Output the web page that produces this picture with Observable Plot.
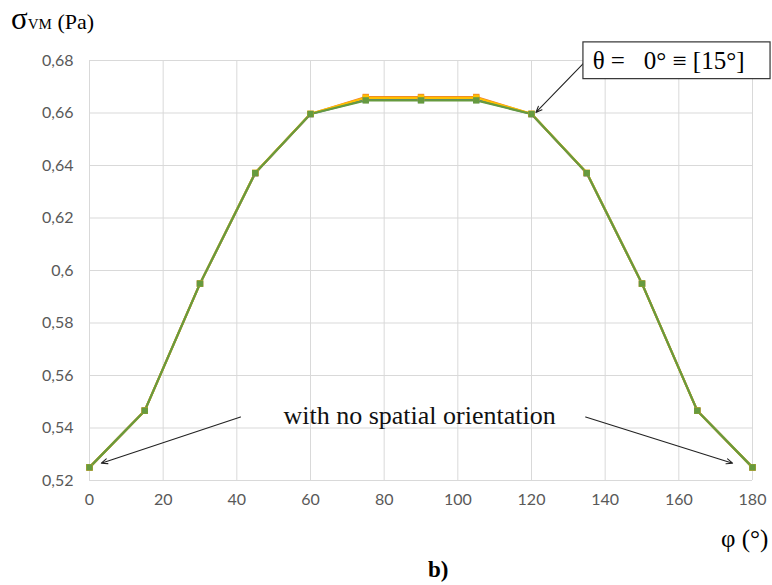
<!DOCTYPE html>
<html><head><meta charset="utf-8">
<script src="https://cdn.jsdelivr.net/npm/d3@7"></script>
<script src="https://cdn.jsdelivr.net/npm/@observablehq/plot@0.6"></script>
<style>
body{margin:0;background:#fff;}
#wrap{position:relative;width:772px;height:585px;overflow:hidden;}
.lbl{position:absolute;font-family:"Liberation Serif","DejaVu Serif",serif;color:#000;white-space:pre;line-height:1;}
</style></head><body><div id="wrap"></div>
<script>
const phi = [0, 15, 30, 45, 60, 75, 90, 105, 120, 135, 150, 165, 180];
const seriesNames = ["Series 1", "Series 2", "Series 3", "Series 4"];
const seriesColors = ["#4472C4", "#ED7D31", "#FFC000", "#669A3F"];
const s1 = [0.525, 0.5466, 0.595, 0.6371, 0.6596, 0.6651, 0.6651, 0.6651, 0.6596, 0.6371, 0.595, 0.5466, 0.525];
const s2 = [0.525, 0.5466, 0.595, 0.6371, 0.6596, 0.6661, 0.6661, 0.6661, 0.6596, 0.6371, 0.595, 0.5466, 0.525];
const s3 = [0.525, 0.5466, 0.595, 0.6372, 0.6597, 0.6658, 0.6658, 0.6658, 0.6597, 0.6372, 0.595, 0.5466, 0.525];
const s4 = [0.525, 0.5466, 0.595, 0.6371, 0.6596, 0.6648, 0.6648, 0.6648, 0.6596, 0.6371, 0.595, 0.5466, 0.525];
const xTicks = [0, 20, 40, 60, 80, 100, 120, 140, 160, 180];
const yTicks = [0.52, 0.54, 0.56, 0.58, 0.6, 0.62, 0.64, 0.66, 0.68];

const allSeries = [s1, s2, s3, s4];
const rows = allSeries.flatMap((s, i) => s.map((v, j) => ({phi: phi[j], v, series: seriesNames[i]})));

const noteText = "with no spatial orientation";
const notes = [{x: 89.6, y: 0.5448, t: noteText}];
const arrows = [
  {x1: 41, y1: 0.5442, x2: 3.2, y2: 0.5266},
  {x1: 134.7, y1: 0.5442, x2: 174.6, y2: 0.5266},
  {x1: 134.1, y1: 0.6789, x2: 121.2, y2: 0.6602}
];
const box = [{x1: 134.1, x2: 184.9, y1: 0.6729, y2: 0.6869}];
const boxText = [{x: 136.6, y: 0.6800, t: "θ =\u00a0\u00a0 0° ≡ [15°]"}];

const fmt = d => String(+d.toFixed(2)).replace(".", ",");

const chart = Plot.plot({
  width: 772, height: 585,
  marginLeft: 89, marginRight: 20, marginTop: 60, marginBottom: 105,
  x: {domain: [0, 180]},
  y: {domain: [0.52, 0.68]},
  color: {domain: seriesNames, range: seriesColors},
  style: {background: "white", fontFamily: "Lato, 'Open Sans', sans-serif", overflow: "visible"},
  marks: [
    Plot.ruleX(xTicks, {stroke: "#d9d9d9", strokeWidth: 1}),
    Plot.ruleY(yTicks, {stroke: "#d9d9d9", strokeWidth: 1}),
    Plot.axisX({ticks: xTicks, tickSize: 0, tickPadding: 13, label: null, fontSize: 16, fill: "#595959", tickFormat: d => String(d)}),
    Plot.axisY({ticks: yTicks, tickSize: 0, tickPadding: 16, label: null, fontSize: 16, fill: "#595959", tickFormat: fmt}),
    Plot.line(rows, {x: "phi", y: "v", z: "series", stroke: "series", strokeWidth: 2.2}),
    Plot.dot(rows, {x: "phi", y: "v", fill: "series", symbol: "square", r: 3.6, stroke: "none"}),
    Plot.arrow(arrows, {x1: "x1", y1: "y1", x2: "x2", y2: "y2", stroke: "#222", strokeWidth: 1.1, headLength: 9, headAngle: 45, bend: 0}),
    Plot.text(notes, {x: "x", y: "y", text: "t", fontSize: 26, fontFamily: "'Liberation Serif', serif", fill: "#111"}),
    Plot.rect(box, {x1: "x1", x2: "x2", y1: "y1", y2: "y2", fill: "white", stroke: "#333", strokeWidth: 1.2}),
    Plot.text(boxText, {x: "x", y: "y", text: "t", textAnchor: "start", fontSize: 25, fontFamily: "'Liberation Serif', serif", fill: "#000"})
  ]
});
const wrap = document.getElementById("wrap");
wrap.appendChild(chart);

function addLabel(html, style) {
  const d = document.createElement("div");
  d.className = "lbl";
  d.innerHTML = html;
  Object.assign(d.style, style);
  wrap.appendChild(d);
}
addLabel('<span style="font-size:31px">σ</span><span style="font-size:15px">VM</span><span style="font-size:22px"> (Pa)</span>', {left: "11px", top: "3px"});
addLabel('<span style="font-size:25px">φ (°)</span>', {left: "721px", top: "526px"});
addLabel('<span style="font-size:23px;font-weight:bold">b)</span>', {left: "428px", top: "558px"});
</script></body></html>
